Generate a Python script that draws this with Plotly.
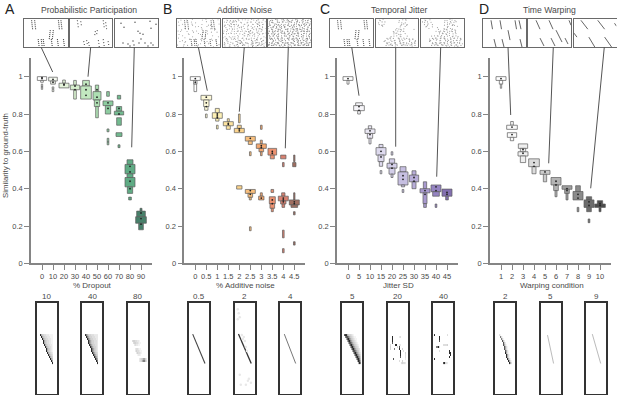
import plotly.graph_objects as go

W, H = 617, 395
FONT = "Liberation Sans"
TXT = "#4a4a4a"

# ---------- boxen data: per category, (low, high, count) ----------
A_LABELS = ["0","10","20","30","40","50","60","70","80","90"]
A_BOXES = [
 [(.98,1.0,28),(.97,.98,8),(.945,.96,4),(.932,.945,4)],
 [(.977,.997,26),(.96,.977,14),(.935,.945,5),(.92,.932,5)],
 [(.965,.982,8),(.94,.965,30)],
 [(.955,.98,8),(.93,.955,28),(.88,.93,8)],
 [(.95,.98,20),(.88,.95,32)],
 [(.92,.955,10),(.875,.92,24),(.84,.875,16),(.78,.84,8)],
 [(.895,.92,8),(.845,.87,30),(.80,.845,16),(.705,.72,6),(.65,.67,5),(.635,.65,5)],
 [(.88,.90,10),(.815,.84,16),(.795,.815,28),(.74,.78,14),(.68,.70,18),(.62,.635,6)],
 [(.53,.555,18),(.48,.53,30),(.46,.48,18),(.41,.46,30),(.375,.41,16),(.34,.355,8)],
 [(.28,.295,6),(.25,.28,26),(.215,.25,32),(.18,.215,14)],
]
A_COLORS = ["#ffffff","#f4f9ef","#e4f3da","#d6efcd","#c2e8c0","#addfb2","#8dcca0","#72bb90","#5fab84","#47806a"]
A_DOTS = [[.99,.995],[.985,.97],[.955,.96],[.95,.93],[.96,.93,.90],[.93,.89,.86],[.86,.83],[.83,.80],[.52,.49,.44,.40],[.27,.24,.21]]

B_LABELS = ["0","0.5","1","1.5","2","2.5","3","3.5","4","4.5"]
B_BOXES = [
 [(.98,1.0,30),(.96,.98,10),(.92,.96,8)],
 [(.875,.90,32),(.84,.875,16),(.82,.84,10),(.78,.80,5)],
 [(.807,.83,12),(.777,.807,30),(.762,.777,10),(.72,.74,5)],
 [(.759,.775,6),(.737,.759,30),(.718,.737,12)],
 [(.723,.74,12),(.70,.723,30),(.753,.80,5),(.398,.416,16)],
 [(.655,.68,30),(.637,.655,12),(.577,.598,5),(.375,.396,30),(.354,.375,14),(.34,.354,6),(.175,.196,5)],
 [(.64,.66,6),(.616,.64,30),(.598,.616,14),(.577,.598,5),(.718,.74,5),(.36,.378,6),(.34,.36,16)],
 [(.58,.616,26),(.56,.58,12),(.38,.396,8),(.32,.357,18),(.295,.32,14),(.277,.295,6)],
 [(.56,.58,16),(.518,.54,5),(.36,.378,10),(.335,.36,30),(.318,.335,16),(.30,.318,8),(.137,.178,5),(.057,.079,5)],
 [(.545,.58,4),(.518,.54,10),(.34,.378,4),(.313,.34,30),(.30,.313,20),(.26,.277,5),(.098,.116,5)],
]
B_COLORS = ["#ffffff","#fdf9d8","#fdf0b5","#fde3a0","#fbd38c","#f9bf7d","#f5a870","#ec9170","#d88070","#a06e60"]
B_DOTS = [[.99,.97],[.89,.86,.84],[.80,.79,.78],[.75,.745],[.72,.71],[.67,.39,.37],[.63,.62,.35],[.60,.59,.34,.32],[.35,.34,.33],[.33,.32]]

C_LABELS = ["0","5","10","15","20","25","30","35","40","45"]
C_BOXES = [
 [(.98,1.0,30),(.96,.98,6)],
 [(.845,.86,20),(.818,.845,32),(.80,.818,8)],
 [(.72,.737,10),(.696,.72,30),(.67,.696,16),(.64,.67,6)],
 [(.62,.637,12),(.58,.62,30),(.545,.58,18),(.52,.545,10),(.48,.497,5)],
 [(.58,.598,5),(.536,.56,16),(.51,.536,30),(.478,.51,18),(.46,.478,6)],
 [(.49,.518,18),(.42,.49,30),(.41,.42,10),(.38,.396,5)],
 [(.473,.496,12),(.437,.473,28),(.40,.437,12)],
 [(.40,.437,10),(.378,.40,30),(.32,.378,12),(.30,.32,8)],
 [(.384,.42,30),(.36,.384,20),(.30,.318,5)],
 [(.36,.398,30),(.34,.36,8)],
]
C_COLORS = ["#ffffff","#f7f6fa","#ebe8f4","#dedaee","#d3cee8","#c6bfe1","#b8aed9","#a899cf","#9584c2","#8370b0"]
C_DOTS = [[.99],[.84,.82],[.71,.69],[.60,.57],[.53,.51],[.47,.45],[.46,.44],[.39,.37],[.41,.39],[.38,.37]]

D_LABELS = ["1","2","3","4","5","6","7","8","9","10"]
D_BOXES = [
 [(.98,1.0,30),(.96,.98,10),(.938,.96,4)],
 [(.74,.76,8),(.718,.74,32),(.675,.70,28),(.657,.675,10)],
 [(.616,.64,28),(.598,.616,16),(.575,.598,30),(.54,.575,16)],
 [(.518,.56,32),(.48,.518,12)],
 [(.477,.498,30),(.437,.477,10)],
 [(.42,.46,30),(.39,.42,14),(.357,.39,6)],
 [(.397,.416,30),(.375,.397,14),(.34,.375,6)],
 [(.385,.416,14),(.34,.385,30),(.277,.30,5)],
 [(.34,.357,16),(.30,.34,30),(.277,.30,14),(.218,.238,5)],
 [(.318,.336,16),(.30,.318,32),(.277,.30,6)],
]
D_COLORS = ["#ffffff","#fafafa","#efefef","#dcdcdc","#cccccc","#b4b4b4","#a0a0a0","#8c8c8c","#6c6c6c","#4c4c4c"]
D_DOTS = [[.99],[.73,.69],[.61,.59],[.54,.52],[.49],[.44,.42],[.40,.39],[.37,.35],[.33,.31],[.32,.31]]

PANEL_TITLES = ["Probabilistic Participation","Additive Noise","Temporal Jitter","Time Warping"]
PANEL_LETTERS = ["A","B","C","D"]
X_TITLES = ["% Dropout","% Additive noise","Jitter SD","Warping condition"]
Y_TICKS = [0,.2,.4,.6,.8,1]
Y_TICK_TEXT = ["0","0.2","0.4","0.6","0.8","1"]
Y_TITLE = "Similarity to ground-truth"
MATRIX_TITLES = [["10","40","80"],["0.5","2","4"],["5","20","40"],["2","5","9"]]

# ---------- raster data: sequences as (t0,n0,t1,n1) in bins ----------
SEQ = [(7.5,1,8.5,10),(10.5,1,11.5,10),(34,1,35,10),(36.5,1,37.5,10),
       (26,11,25,20),(29,11,28,20),
       (14,20,15,28),(17,20,18,28),(19,20,20,28),(27,20,28,28),(33,20,34,28),(39,20,40,28)]
SEQ_A2 = [(7.5,1,8.5,8),(11,2,12,8),(34,1,35,8),(36.5,3,37.5,10),
          (26,12,25,18),(28,11,27,17),
          (14,22,15,27),(17,21,18,27),(19,23,20,28),(29,21,30,28),(34,20,35,27),(39,22,40,28)]
DOTS_A3 = [(6,4),(9,8),(20,3),(35,2),(36,9),(25,14),(28,15),(13,25),(15,27),(18,22),(19,26),(24,24),(26,20),(30,24),(33,27),(36,24),(38,26),(8,24),(41,5),(23,12)]
WARP_1 = [(8,1,9.5,10),(17,1,18.5,10),(32,1,33.5,10),(36,1,38,10),(25,11,27,21),(11,20,13,28),(19,20,21,28),(37,20,39,28)]
WARP_2 = [(8,1,12,10),(21,1,25,10),(41,1,43,6),(28,11,34,23),(12,19,16,27),(23,19,27,27),(37,19,40,25)]
WARP_3 = [(7,1,14,10),(24,1,31,10),(41,4,43,7),(15,18,21,28),(31,18,38,28),(0,14,3,18)]

NOISE_B1 = [
"...:......:...:.........:...:.....:......:.",
".:......:....:.....:........:.......:......",
"......:.......:.:.......:.....:..:........:",
"..:.....:.........:.:........:......:......",
".......:...:...........:.:........:....:...",
".:...:........:.....:........:.......:.....",
"....:.....:.....:.........:......:......:..",
"..:.......:.:.......:..:.......:...........",
"......:.........:.......:...:.......:...:..",
".:.....:....:......:.........:...:.........",
"....:.......:....:.....:.:........:...:....",
"..:....:.:.........:.......:..:.......:....",
".......:......:.....:..:......:.:.........:",
".:...:.....:.........:......:......:...:...",
]
NOISE_B2 = [
":..:.:...:..:.:.:...:.:.:...:..:..:.:..:.:.",
".:..:.:.:.:...:..:.:...:.:.:.:..:...:.:...:",
"..:.:...:..:.:..:...:.:...:..:.:..:.:..:.:.",
":.:..:.:..:...:.:.:..:..:.:.:...:.:..:.:...",
"..:...:.:..:.:..:..:.:...:..:.:...:.:...:.:",
".:.:.:..:.:...:...:.:.:.:..:...:.:..:.:.:..",
":...:..:...:.:.:.:...:..:.:.:.:..:.:...:..:",
".:.:..:.:.:..:...:.:..:...:...:.:..:.:.:.:.",
"..:..:...:..:.:.:...:.:.:..:.:..:...:...:..",
":.:.:..:.:.:...:..:.:...:.:..:.:.:.:.:.:..:",
"...:.:...:..:.:..:...:.:..:.:...:..:...:.:.",
".:...:.:..:.:..:.:.:..:.:...:.:.:.:.:.:...:",
":.:.:..:.:...:...:.:.:..:.:.:..:...:.:..:..",
"..:..:.:..:.:.:.:...:.:...:..:.:.:..:.:.:.:",
]
NOISE_B3 = [
":.::.:.::.:..::.:.:::..:.:.::.:..:::.:.::.:",
".:.:::..:.::.:.:.:..:::.:.:.::.:.:.:.::.:.:",
":.:..:.:::.:.:..::.:.:.:.::.:.::.:.::.:.:.:",
".::.:.:.:.:.::.:.:.::.:.::..:.:.::.:.:.::..",
":.:.::.:.::.:.:.:.:.:.::.:.:::.:.:.::.:.:.:",
".:.:.:.:.:.:::.:.::.:.:.:.:.:.:.:::.:.:.::.",
"::.:.::.:.:.:.:.:.:.::.:.:.::.:.:.:.:.::.:.",
".:.:::.:.:.:..::.:.:.:.:::.:.:.:.:.::.:.:.:",
":.:.:.:.::.:.:.:.::.:.:.:.:.::.:.::.:.:.::.",
".::.:.:.:.:.:::.:.:.::.:.:.:.:.:.:.:.:::.:.",
":.:.::.:.:.:.:.:.:.:.:.::.:.:::.:.:.:.:.:.:",
".:.:.:.::.:.::.:.::.:.:.:.:.:.:.:.::.:.:.::",
"::.:.:.:.:.:.:.:.:.:.::.:.::.:.:.:.:.:.:.:.",
".:.::.:.:.:.:.::.:.:.:.:.:.:.:.::.:.:.::.:.",
]
JITTER_C2 = [
"...:.:.:...............:...:.:.:...........",
"..:...:.:...............:.:...:............",
"...:.:..:................:..:.:.:..........",
".....:.:................:.:..:.............",
".....................:..:....:.............",
"...................:..:.:.:...........:....",
".................:.:.:...:.:.:.............",
"..................:..:.:..:..:.............",
"................:.:.:...:.:.....:..........",
"...........:.:.:.:....:.:.:..:.:.:...:.....",
"..........:.:.:...:.:..:.:.:..:..:.:.:.:...",
".........:.:..:.:.:.:..:.:.:.:.:.:..:.:.:..",
"..........:.:.:.:..:.:..:.:.:.:..:.:.:.:...",
"...........:.:.:.:.:..:..:.:.:..:.:..:.:...",
]
JITTER_C3 = [
"...:.:..:..............:..:.:..:.:.........",
".:..:.:...:.............:.:.:.:.:..:.......",
"...:.:.:..:............:.:..:.:.:..........",
"....:.:...:..............:.:..:..:.:.......",
".......:........:.....:.:.:.:..:...........",
".................:..:.:.:.:..:.:.:.:.......",
"...............:.:.:.:..:.:..:.:.:.........",
"..................:.:.:.:.:.:...:.:........",
"...........:.:.:.:.:.:.:.:..:.:.:.:..:.....",
".........:.:.:.:..:.:.:.:.:.:.:.:.:.:.:.:..",
"........:.:.:.:.:.:.:..:.:.:..:.:.:.:.:.:..",
".........:.:.:.:..:.:.:.:.:.:.:.:.:.:..:...",
"..........:.:.:.:.:..:.:.:.:.:.:..:.:.:.:..",
"...........:.:.:.:..:.:.:.:.:..:.:.:.:.:...",
]

# ---------- sequence-matrix data: darkness 0-9 ----------
MAT_A1 = ["00096543322211110000","00009654332221110000","00000965433222110000","00000096543322110000","00000096543322110000",
"00000009654332210000","00000000965433210000","00000000096543210000","00000000096543210000","00000000009654320000",
"00000000000965430000","00000000000096540000","00000000000009650000","00000000000000960000","00000000000000090000"]
MAT_A2 = ["00097654433322220000","00009765443332220000","00000976544333220000","00000097654433320000","00000097654433320000",
"00000009765443320000","00000000976544320000","00000000097654320000","00000000097654320000","00000000009765430000",
"00000000000976540000","00000000000097650000","00000000000009760000","00000000000000970000","00000000000000090000"]
MAT_A3 = ["00000000000000000000","00000000000000000000","00000000000000000000","00003443322100000000","00000344332110000000",
"00000023221100000000","00000000000000000000","00000002332110000000","00000002433211000000","00000000243321000000",
"00000000012210000000","00000000000000000000","00000000000234566420","00000000000234677530","00000000000000000000"]
MAT_C1 = ["00899654432100000000","00078876543211000000","00006897654321100000","00000689765432100000","00000068876543210000",
"00000006897654321000","00000000689765432000","00000000068976543200","00000000006887654210","00000000000689765320",
"00000000000068976530","00000000000006897640","00000000000000689750","00000000000000069860","00000000000000006970"]
MAT_C2 = ["00000000000000000000","00009000000230000000","00009000000000000000","00009000000000000000","00008000000000000000",
"00300009900220000000","00400000040800000000","00400070000900400000","00000000000090030000","00000000000090000400",
"00000000000090000300","00000000000080000300","00000800000000000200","00000000000300400000","00000000000003433200"]
MAT_C3 = ["09000000000000300000","00000090000000000000","00000090000000000000","00000080000000000000","00000000000000000000",
"00000000003333400000","00077930000000000000","00000000000000000000","00000030000000009000","00000000000000009900",
"00000000000000000900","00000000000000009000","09000000000000000000","00000000000000000000","00000000008943200000"]
MAT_D1 = ["00003100000000000000","00000731000000000000","00000074100000000000","00000008520000000000","00000000852000000000",
"00000000863100000000","00000000086310000000","00000000086310000000","00000000008631000000","00000000009631000000",
"00000000000963100000","00000000000963100000","00000000000096310000","00000000000009631000","00000000000000963000"]
LINE_B1 = (3.7,15.5,16,30.3)
LINE_B2 = (3.7,15.5,16.3,30.3)
LINE_B3 = (4.3,15.5,15.7,30.3)
LINE_D2 = (6.7,16,12.7,30.3)
LINE_D3 = (6.3,15.5,14.7,30.3)
SPECK_B2 = [(3,3),(4,5),(5,7),(3,8),(16,40),(14,38),(11,41),(13,39),(5,36),(6,41),(7,16),(8,18),(9,17),(10,19),(11,22),(12,24)]

# ---------- drawing ----------
fig = go.Figure()
layout = {}
shapes = []
annots = []
axn = [0]

def fx(px): return px / W
def fy(py): return 1 - py / H

def new_axes(x0, x1, y0, y1, xcfg, ycfg):
    axn[0] += 1
    n = axn[0]
    layout[f"xaxis{n}"] = dict(domain=[fx(x0), fx(x1)], anchor=f"y{n}", **xcfg)
    layout[f"yaxis{n}"] = dict(domain=[fy(y1), fy(y0)], anchor=f"x{n}", **ycfg)
    return f"x{n}", f"y{n}"

def text(x, y, s, size=8, color=TXT, angle=0):
    annots.append(dict(x=fx(x), y=fy(y), xref="paper", yref="paper", text=s, showarrow=False,
                       xanchor="center", yanchor="middle", textangle=angle,
                       font=dict(family=FONT, size=size, color=color)))

MAIN_X = [(31, 152), (184.3, 305.3), (337, 458), (490, 611)]
Y_TOP, Y_BOT = 58, 263.4
BOXES = [A_BOXES, B_BOXES, C_BOXES, D_BOXES]
COLORS = [A_COLORS, B_COLORS, C_COLORS, D_COLORS]
DOTS = [A_DOTS, B_DOTS, C_DOTS, D_DOTS]
LABELS = [A_LABELS, B_LABELS, C_LABELS, D_LABELS]
AX_CLR = "#858585"

for p in range(4):
    x0, x1 = MAIN_X[p]
    xa, ya = new_axes(x0, x1, Y_TOP, Y_BOT,
        dict(range=[-1, 10], tickvals=list(range(10)), ticktext=LABELS[p], ticks="outside", ticklen=5, tickwidth=1,
             tickcolor=AX_CLR, showline=True, linecolor=AX_CLR, linewidth=1.5, showgrid=False, zeroline=False,
             tickfont=dict(family=FONT, size=7.5, color=TXT)),
        dict(range=[0, 1.1], tickvals=Y_TICKS, ticktext=Y_TICK_TEXT, ticks="outside", ticklen=5, tickwidth=1,
             tickcolor=AX_CLR, showline=True, linecolor=AX_CLR, linewidth=1.5, showgrid=False, zeroline=False,
             tickfont=dict(family=FONT, size=7.5, color=TXT)))
    cx, lo, hi, wd, col = [], [], [], [], []
    for i, boxes in enumerate(BOXES[p]):
        for (a, b, n) in boxes:
            cx.append(i); lo.append(a); hi.append(b - a); wd.append(n / 33); col.append(COLORS[p][i])
    fig.add_trace(go.Bar(x=cx, y=hi, base=lo, width=wd, marker=dict(color=col, line=dict(color="#5c5c5c", width=0.7)),
                         xaxis=xa, yaxis=ya, showlegend=False, hoverinfo="skip"))
    dx, dy = [], []
    for i, vals in enumerate(DOTS[p]):
        for v in vals:
            dx.append(i); dy.append(v)
    fig.add_trace(go.Scatter(x=dx, y=dy, mode="markers", marker=dict(size=1.8, color="#222222"),
                             xaxis=xa, yaxis=ya, showlegend=False, hoverinfo="skip"))
    text((x0 + x1) / 2 + 1, 285, X_TITLES[p], size=8)

RASTER_X = [[(24,67.5),(70,112),(115,158)],[(177,220),(223,265.5),(268,311)],
            [(330,373),(375.7,418),(421,464)],[(483,526),(528,571),(574,616.5)]]

def raster_axes(px):
    return new_axes(px[0], px[1], 19.3, 47,
        dict(range=[0, 43], showticklabels=False, ticks="", showgrid=False, zeroline=False, showline=True, mirror=True, linecolor="#6a6a6a", linewidth=1),
        dict(range=[28, 0], showticklabels=False, ticks="", showgrid=False, zeroline=False, showline=True, mirror=True, linecolor="#6a6a6a", linewidth=1))

def add_segs(ax, segs, dash, color="#555555", width=1):
    xs, ys = [], []
    for (a, b, c, d) in segs:
        xs += [a, c, None]; ys += [b, d, None]
    fig.add_trace(go.Scatter(x=xs, y=ys, mode="lines", line=dict(color=color, width=width, dash=dash),
                             xaxis=ax[0], yaxis=ax[1], showlegend=False, hoverinfo="skip"))

def add_grid(ax, rows, color="#777777", size=1.4):
    xs, ys = [], []
    for r, row in enumerate(rows):
        for c, ch in enumerate(row):
            if ch == ":":
                xs.append(c + .5 + ((r * r + c) % 5 - 2) * .45)
                ys.append(r * 2 + 1 + ((c * c + r) % 7 - 3) * .3)
    fig.add_trace(go.Scatter(x=xs, y=ys, mode="markers", marker=dict(size=size, color=color, line=dict(width=0)),
                             xaxis=ax[0], yaxis=ax[1], showlegend=False, hoverinfo="skip"))

ax = raster_axes(RASTER_X[0][0]); add_segs(ax, SEQ, "1px,1px", "#444444", 1.1)
ax = raster_axes(RASTER_X[0][1]); add_segs(ax, SEQ_A2, "1px,2px", "#555555", 1.1)
ax = raster_axes(RASTER_X[0][2])
fig.add_trace(go.Scatter(x=[d[0] for d in DOTS_A3], y=[d[1] for d in DOTS_A3], mode="markers",
                         marker=dict(size=1.5, color="#555555", line=dict(width=0)),
                         xaxis=ax[0], yaxis=ax[1], showlegend=False, hoverinfo="skip"))
ax = raster_axes(RASTER_X[1][0]); add_grid(ax, NOISE_B1, "#a0a0a0", 1.1); add_segs(ax, SEQ, "1px,1px", "#666666", 1)
ax = raster_axes(RASTER_X[1][1]); add_grid(ax, NOISE_B2, "#a0a0a0", 1.1); add_segs(ax, SEQ_A2, "1px,2px", "#888888", 1)
ax = raster_axes(RASTER_X[1][2]); add_grid(ax, NOISE_B3, "#909090", 1.2)
ax = raster_axes(RASTER_X[2][0]); add_segs(ax, SEQ, "1px,1px", "#555555", 1.1)
ax = raster_axes(RASTER_X[2][1]); add_grid(ax, JITTER_C2, "#a0a0a0", 1.2)
ax = raster_axes(RASTER_X[2][2]); add_grid(ax, JITTER_C3, "#a0a0a0", 1.2)
ax = raster_axes(RASTER_X[3][0]); add_segs(ax, WARP_1, None, "#666666", 1)
ax = raster_axes(RASTER_X[3][1]); add_segs(ax, WARP_2, None, "#666666", 1)
ax = raster_axes(RASTER_X[3][2]); add_segs(ax, WARP_3, None, "#666666", 1)

MAT_X = [(36.7,56.7,82,102.3,127.5,147.5),(189,209,234.7,255,280,300),(342,362,387.7,408,433,453),(495,515,540.7,561,586,606)]
GRAY = [[0, "#ffffff"], [0.6, "#c4c4c4"], [1, "#2a2a2a"]]
MAT_SPEC = [[MAT_A1, MAT_A2, MAT_A3],
            [LINE_B1, LINE_B2, LINE_B3],
            [MAT_C1, MAT_C2, MAT_C3],
            [MAT_D1, LINE_D2, LINE_D3]]
LINE_STYLE = {id(LINE_B1): ("#444444", 1.1), id(LINE_B2): ("#333333", 1.3), id(LINE_B3): ("#777777", 1),
              id(LINE_D2): ("#bbbbbb", 1), id(LINE_D3): ("#bbbbbb", 1)}
for p in range(4):
    for k in range(3):
        x0, x1 = MAT_X[p][k * 2], MAT_X[p][k * 2 + 1]
        ax = new_axes(x0, x1, 303.3, 393.5,
            dict(range=[0, 20], showticklabels=False, ticks="", showgrid=False, zeroline=False, showline=True, mirror=True, linecolor="#333333", linewidth=1.6),
            dict(range=[45.4, 0], showticklabels=False, ticks="", showgrid=False, zeroline=False, showline=True, mirror=True, linecolor="#333333", linewidth=1.6))
        spec = MAT_SPEC[p][k]
        if isinstance(spec, list):
            z = [[int(c) for c in row] for row in spec]
            fig.add_trace(go.Heatmap(z=z, x0=.5, dx=1, y0=16, dy=1, zmin=0, zmax=9, colorscale=GRAY, showscale=False,
                                     zsmooth=False, xaxis=ax[0], yaxis=ax[1], hoverinfo="skip"))
        else:
            c, w = LINE_STYLE[id(spec)]
            add_segs(ax, [spec], None, c, w)
            if spec is LINE_B2:
                fig.add_trace(go.Scatter(x=[s[0] for s in SPECK_B2], y=[s[1] for s in SPECK_B2], mode="markers",
                                         marker=dict(size=2.5, color="#e8e8e8", line=dict(width=0)),
                                         xaxis=ax[0], yaxis=ax[1], showlegend=False, hoverinfo="skip"))
        text((x0 + x1) / 2, 296.7, MATRIX_TITLES[p][k], size=8)

CONNECT = [(41,47,52.7,72),(90.7,47,88,76.7),(134.3,47,131.7,147.3),
           (198.3,47,207.3,90.7),(244.3,47,239.3,111.7),(288.3,47,285.3,148.3),
           (351.7,47,359,95.7),(395.7,47,395.7,146.7),(440.7,47,436.7,176.7),
           (508,47,510.7,115),(553.3,47,548.7,163.3),(604.3,47,590.7,188.3)]
for (a, b, c, d) in CONNECT:
    shapes.append(dict(type="line", xref="paper", yref="paper", x0=fx(a), y0=fy(b), x1=fx(c), y1=fy(d),
                       line=dict(color="#555555", width=1)))

TITLE_X = [89.3, 244, 399, 549]
LETTER_X = [9.5, 167, 325, 483.5]
for p in range(4):
    text(TITLE_X[p], 10, PANEL_TITLES[p], size=8.6)
    text(LETTER_X[p], 8.5, PANEL_LETTERS[p], size=14, color="#222222")
text(5, 156, Y_TITLE, size=7.8, angle=-90)

fig.update_layout(width=W, height=H, margin=dict(l=0, r=0, t=0, b=0, autoexpand=False), paper_bgcolor="white", plot_bgcolor="rgba(0,0,0,0)",
                  barmode="overlay", showlegend=False, shapes=shapes, annotations=annots, **layout)
fig.write_html("out.html", config=dict(displayModeBar=False),
               post_script="document.body.style.margin='0';document.body.style.overflow='hidden';")
